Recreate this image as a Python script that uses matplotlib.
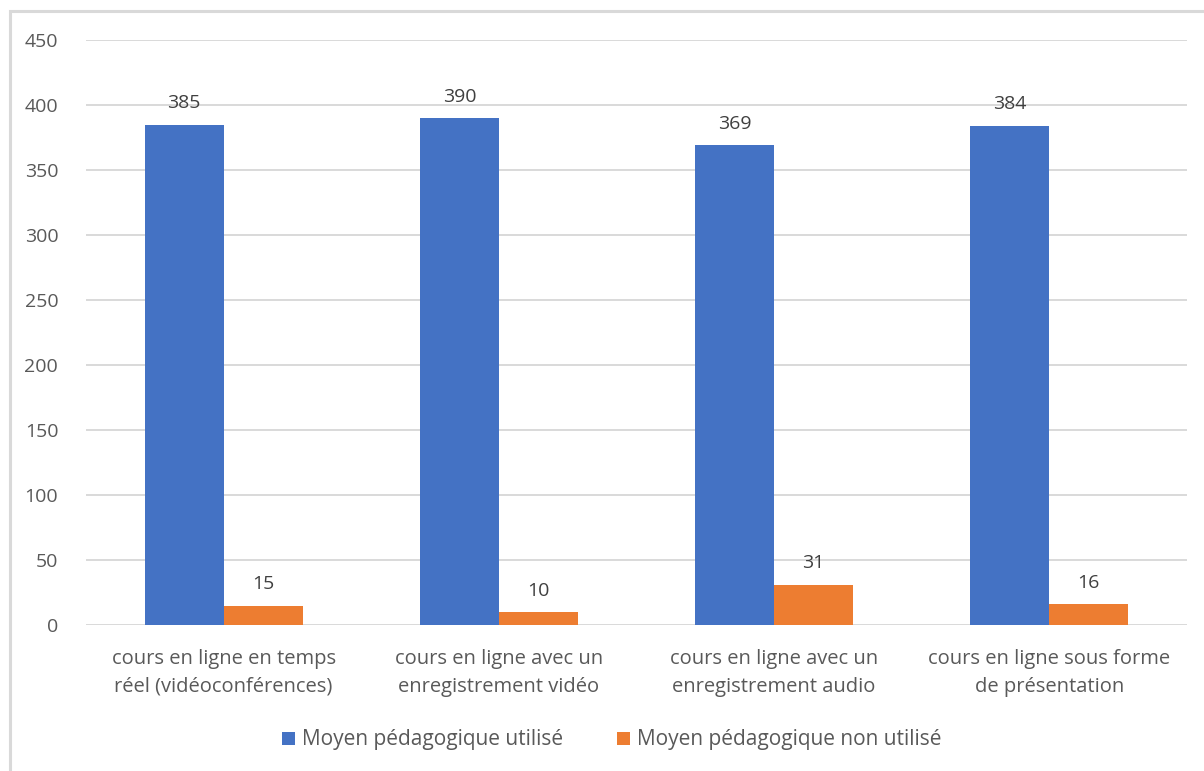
import matplotlib.pyplot as plt
import matplotlib.patches as mpatches
import numpy as np

categories = [
    "cours en ligne en temps\nréel (vidéoconférences)",
    "cours en ligne avec un\nenregistrement vidéo",
    "cours en ligne avec un\nenregistrement audio",
    "cours en ligne sous forme\nde présentation",
]
series_names = ["Moyen pédagogique utilisé", "Moyen pédagogique non utilisé"]
used = [385, 390, 369, 384]
not_used = [15, 10, 31, 16]
y_ticks = [0, 50, 100, 150, 200, 250, 300, 350, 400, 450]

BLUE = "#4472C4"
ORANGE = "#ED7D31"
TEXT = "#595959"
GRID = "#D9D9D9"

plt.rcParams["font.family"] = ["Open Sans", "DejaVu Sans"]

fig = plt.figure(figsize=(12.04, 7.71), dpi=100)
ax = fig.add_axes([86 / 1204, 1 - 625 / 771, (1187 - 86) / 1204, (625 - 40) / 771])

# outer chart frame
fig.patches.append(mpatches.Rectangle((10 / 1204, -0.05), 1.2, 1 - 11 / 771 + 0.05,
                                      transform=fig.transFigure, fill=False,
                                      edgecolor="#D9D9D9", linewidth=2.2))

x = np.arange(len(categories))
w = 0.287
b1 = ax.bar(x - w / 2, used, w, color=BLUE, label=series_names[0], zorder=3)
b2 = ax.bar(x + w / 2, not_used, w, color=ORANGE, label=series_names[1], zorder=3)

for bars, vals in ((b1, used), (b2, not_used)):
    for rect, v in zip(bars, vals):
        ax.annotate(str(v), (rect.get_x() + rect.get_width() / 2, v),
                    xytext=(0, 9), textcoords="offset points",
                    ha="center", va="bottom", fontsize=14, color="#404040")

ax.set_xlim(-0.5, len(categories) - 0.5)
ax.set_ylim(0, 450)
ax.set_yticks(y_ticks)
ax.set_xticks(x)
ax.set_xticklabels(categories, fontsize=14.5, color=TEXT, linespacing=1.55)
ax.tick_params(axis="y", labelsize=14, labelcolor=TEXT, length=0, pad=20)
ax.tick_params(axis="x", length=0, pad=17)
ax.yaxis.grid(True, color=GRID, linewidth=1.4, zorder=0)
ax.set_axisbelow(True)
for s in ax.spines.values():
    s.set_visible(False)

leg = fig.legend(handles=[b1, b2], labels=series_names, loc="center",
                 bbox_to_anchor=(612 / 1204, 1 - 740 / 771), ncol=2, frameon=False,
                 fontsize=15, handlelength=0.6, handleheight=0.6,
                 handletextpad=0.35, columnspacing=2.6)
for t in leg.get_texts():
    t.set_color(TEXT)

fig.savefig("out.png", dpi=100)
